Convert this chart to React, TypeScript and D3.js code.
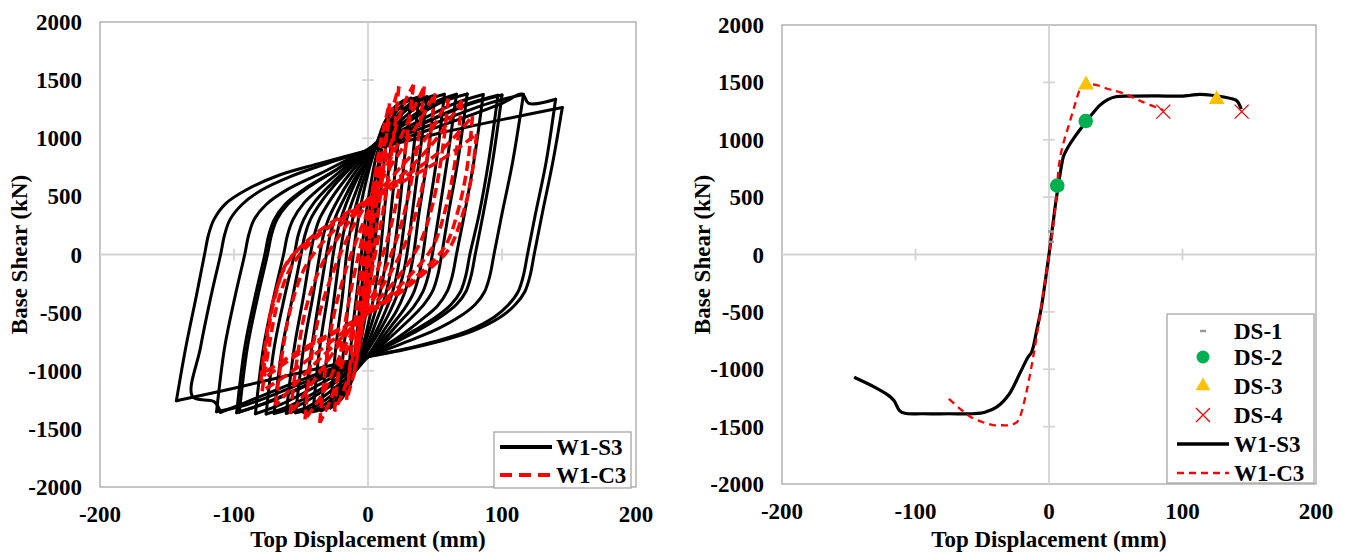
import React from 'react';
import * as d3 from 'd3';

type P = [number, number];

const xTicks = [-200, -100, 0, 100, 200];
const yTicks = [-2000, -1500, -1000, -500, 0, 500, 1000, 1500, 2000];
const axisMarkX = [-100, 100];
const axisMarkY = [-1500, -1000, -500, 500, 1000, 1500];

// Left panel: cyclic test loops of W1-S3
const s3Loops: P[][] = [
  [[145,1265],[138,800],[130,350],[124,0],[121,-180],[117,-320],[110,-430],[98,-545],[78,-660],[52,-752],[26,-822],[0,-880],[-50,-1015],[-100,-1150],[-143,-1258],
   [-136,-800],[-128,-350],[-122,0],[-119,170],[-115,300],[-106,440],[-91,555],[-66,684],[-36,784],[0,895],[50,1035],[100,1160],[145,1265]],
  [[140,1335],[133,800],[125,350],[119,0],[116,-180],[112,-320],[105,-430],[94,-540],[75,-655],[50,-748],[25,-820],[0,-880],[-50,-1080],[-95,-1290],[-110,-1358],[-115,-1265],[-131,-1223],
   [-125,-800],[-117,-350],[-110,0],[-107,170],[-103,300],[-94,430],[-80,550],[-58,670],[-30,785],[0,895],[50,1090],[100,1300],[115,1381],[120,1300],[140,1335]],
  [[116,1376],[108,800],[100,350],[94,0],[91,-180],[87,-320],[80,-430],[69,-530],[52,-640],[30,-745],[0,-880],[-50,-1110],[-90,-1290],[-113,-1352],
   [-107,-800],[-99,-350],[-92,0],[-89,170],[-85,300],[-76,430],[-60,560],[-35,700],[0,900],[50,1130],[90,1300],[116,1376]],
  [[100,1372],[93,800],[86,350],[80,0],[77,-180],[73,-320],[66,-430],[55,-530],[38,-650],[18,-770],[0,-875],[-40,-1090],[-75,-1270],[-98,-1361],
   [-92,-800],[-84,-350],[-77,0],[-74,170],[-70,300],[-62,430],[-48,560],[-25,720],[0,900],[40,1120],[75,1290],[100,1372]],
  [[97,1370],[90,800],[83,350],[76,0],[73,-180],[69,-320],[62,-430],[51,-535],[35,-650],[16,-775],[0,-880],[-40,-1095],[-74,-1270],[-96,-1355],
   [-90,-800],[-82,-350],[-75,0],[-72,170],[-68,300],[-60,430],[-46,565],[-24,725],[0,905],[40,1125],[73,1290],[97,1370]],
  [[86,1376],[79,800],[72,350],[66,0],[63,-180],[59,-320],[52,-440],[40,-560],[24,-700],[0,-875],[-35,-1110],[-65,-1290],[-84,-1370],
   [-78,-800],[-70,-350],[-63,0],[-60,170],[-56,300],[-48,440],[-35,580],[-18,740],[0,900],[35,1130],[65,1300],[86,1376]],
  [[74,1381],[67,800],[60,350],[55,0],[52,-180],[48,-320],[41,-440],[30,-570],[14,-740],[0,-880],[-30,-1120],[-58,-1300],[-76,-1372],
   [-70,-800],[-62,-350],[-55,0],[-52,170],[-48,300],[-40,450],[-28,600],[-12,770],[0,900],[30,1140],[55,1310],[74,1381]],
  [[66,1378],[59,800],[53,350],[48,0],[45,-180],[41,-320],[34,-450],[23,-590],[10,-760],[0,-880],[-28,-1130],[-52,-1300],[-70,-1368],
   [-64,-800],[-56,-350],[-50,0],[-47,170],[-43,300],[-35,450],[-24,610],[-10,780],[0,900],[28,1150],[50,1310],[66,1378]],
  [[57,1378],[51,800],[45,350],[41,0],[38,-180],[34,-330],[27,-470],[17,-620],[6,-790],[0,-880],[-25,-1150],[-45,-1310],[-61,-1366],
   [-55,-800],[-48,-350],[-43,0],[-40,170],[-36,310],[-28,470],[-18,630],[-6,800],[2,900],[25,1160],[43,1320],[57,1378]],
  [[50,1370],[44,800],[38,350],[34,0],[31,-180],[27,-340],[21,-490],[12,-650],[4,-800],[-2,-900],[-22,-1160],[-40,-1310],[-54,-1362],
   [-48,-800],[-41,-350],[-36,0],[-33,180],[-29,320],[-22,480],[-13,650],[-3,810],[4,910],[22,1170],[38,1320],[50,1370]],
  [[44,1357],[38,800],[33,350],[29,0],[26,-180],[22,-340],[16,-500],[8,-670],[0,-820],[-5,-920],[-20,-1170],[-35,-1310],[-48,-1358],
   [-42,-800],[-36,-350],[-31,0],[-28,180],[-24,330],[-17,500],[-9,670],[0,820],[5,920],[20,1170],[33,1310],[44,1357]],
  [[38,1355],[33,800],[28,350],[24,0],[21,-200],[17,-370],[11,-540],[4,-710],[-2,-850],[-8,-960],[-20,-1200],[-30,-1310],[-41,-1352],
   [-36,-800],[-30,-350],[-26,0],[-23,190],[-19,350],[-13,530],[-6,700],[1,840],[7,950],[18,1180],[28,1310],[38,1355]],
  [[32,1345],[27,800],[23,350],[19,0],[16,-200],[12,-390],[6,-580],[0,-760],[-6,-900],[-15,-1130],[-25,-1290],[-35,-1345],
   [-30,-800],[-25,-350],[-21,0],[-18,200],[-14,380],[-8,570],[-2,750],[4,890],[13,1130],[22,1290],[32,1345]],
  [[26,1320],[21,800],[17,350],[14,0],[11,-220],[7,-430],[2,-620],[-4,-820],[-11,-1020],[-19,-1230],[-28,-1320],
   [-24,-800],[-19,-350],[-16,0],[-13,220],[-9,420],[-4,620],[2,810],[9,1020],[17,1230],[26,1320]],
  [[20,1250],[16,800],[12,350],[9,0],[6,-250],[2,-500],[-3,-750],[-9,-980],[-15,-1160],[-22,-1250],
   [-18,-800],[-14,-350],[-11,0],[-8,250],[-4,500],[1,740],[7,970],[13,1150],[20,1250]],
  [[15,1100],[11,700],[7,300],[4,0],[1,-300],[-3,-600],[-8,-880],[-15,-1100],
   [-12,-700],[-8,-300],[-5,0],[-2,300],[2,600],[7,880],[15,1100]],
  [[10,900],[7,550],[4,200],[1,-150],[-3,-500],[-10,-900],[-7,-550],[-4,-200],[-1,150],[3,500],[10,900]],
  [[5,550],[2,200],[-1,-150],[-5,-550],[-2,-200],[1,150],[5,550]],
];

// Left panel: cyclic test loops of W1-C3
const c3Loops: P[][] = [
  [[5,600],[2,250],[-1,-100],[-5,-600],[-2,-250],[1,100],[5,600]],
  [[10,1000],[7,600],[3,150],[-1,-300],[-5,-650],[-10,-1000],[-7,-600],[-3,-150],[1,300],[5,650],[10,1000]],
  [[16,1300],[12,800],[7,300],[2,-200],[-4,-600],[-10,-1000],[-16,-1250],[-12,-800],[-7,-300],[-2,200],[4,600],[10,1000],[16,1300]],
  [[23,1445],[19,1000],[13,500],[7,100],[0,-300],[-8,-700],[-16,-1100],[-25,-1350],[-21,-900],[-15,-450],[-8,-50],[-1,300],[8,700],[16,1150],[23,1445]],
  [[34,1460],[29,1000],[23,550],[15,150],[5,-200],[-7,-550],[-18,-900],[-28,-1250],[-36,-1448],[-32,-1000],[-26,-550],[-17,-150],[-6,200],[6,550],[17,950],[27,1300],[34,1460]],
  [[42,1445],[37,950],[30,500],[21,120],[8,-250],[-6,-550],[-20,-850],[-34,-1200],[-47,-1418],[-43,-950],[-36,-500],[-25,-120],[-12,220],[3,520],[18,850],[32,1200],[42,1445]],
  [[50,1385],[45,900],[38,450],[28,100],[12,-250],[-5,-520],[-22,-780],[-40,-1080],[-58,-1373],[-53,-900],[-46,-450],[-35,-100],[-18,220],[0,480],[18,780],[36,1100],[50,1385]],
  [[60,1340],[55,850],[48,420],[38,80],[20,-230],[0,-480],[-20,-720],[-45,-1000],[-69,-1297],[-64,-850],[-57,-430],[-46,-90],[-26,200],[0,450],[22,720],[45,1030],[60,1340]],
  [[70,1324],[65,800],[58,400],[48,60],[28,-220],[5,-460],[-20,-680],[-50,-950],[-79,-1176],[-74,-800],[-67,-400],[-56,-80],[-35,180],[-5,420],[25,680],[50,980],[70,1324]],
  [[78,1190],[74,750],[67,370],[57,60],[35,-200],[10,-420],[-20,-640],[-55,-880],[-80,-1085],[-76,-720],[-70,-370],[-60,-70],[-40,170],[-10,400],[25,650],[55,900],[78,1190]],
  [[81,1036],[77,650],[70,320],[60,40],[40,-180],[15,-400],[-15,-600],[-50,-820],[-78,-1020],[-75,-700],[-69,-350],[-60,-60],[-40,150],[-10,380],[25,620],[58,840],[81,1036]],
];

// Right panel: envelope curves
const s3Backbone: P[] = [[-146,-1070],[-130,-1160],[-120,-1230],[-116,-1275],[-112,-1360],[-108,-1384],[-95,-1388],[-75,-1388],[-57,-1388],[-48,-1375],[-39,-1328],[-30,-1220],[-22,-1040],[-16,-900],[-13,-850],[-9,-650],[-6,-480],[-3,-250],[0,0],[3,270],[5,450],[7,600],[9,750],[11,860],[14,930],[19,1020],[26,1130],[32,1220],[38,1300],[44,1350],[50,1375],[60,1380],[80,1382],[100,1381],[106,1388],[113,1395],[122,1388],[132,1370],[140,1345],[142,1320],[144,1265]];
const c3Backbone: P[] = [[-75,-1259],[-67,-1340],[-59,-1413],[-50,-1460],[-42,-1486],[-35,-1488],[-29,-1486],[-24,-1460],[-21.7,-1413],[-18.5,-1280],[-15.5,-1122],[-10.5,-803],[-4.3,-338],[0,0],[4,330],[8,823],[11,980],[14.5,1114],[19,1290],[23,1434],[25.7,1477],[30,1485],[35.7,1477],[45,1440],[55.7,1405],[70,1330],[85.6,1259]];
const ds1: P[] = [[1.5, 200], [1.5, 110]];
const ds2: P[] = [[6.2, 600], [27.5, 1163]];
const ds3: P[] = [[27.7, 1477], [125.6, 1352]];
const ds4: P[] = [[85.6, 1245], [144.3, 1245]];

const FONT = "'Liberation Serif', 'Times New Roman', serif";
const FS = 23;
const GRID = '#d4d4d4';
const BORDER = '#a6a6a6';

// split each loop into its two branches at the negative peak so corners stay sharp
function branches(lp: P[]): P[][] {
  let k = 0;
  lp.forEach((p, i) => { if (p[1] < lp[k][1]) k = i; });
  return [lp.slice(0, k + 1), lp.slice(k)];
}

function Frame({ xs, ys, titleX }: { xs: d3.ScaleLinear<number, number>; ys: d3.ScaleLinear<number, number>; titleX: number }) {
  const [l, r] = xs.range();
  const [b, t] = ys.range();
  return (
    <g>
      <rect x={l} y={t} width={r - l} height={b - t} fill="#fff" stroke={BORDER} strokeWidth={1.3} />
      <line x1={xs(0)} x2={xs(0)} y1={t} y2={b} stroke={GRID} strokeWidth={1.8} />
      <line x1={l} x2={r} y1={ys(0)} y2={ys(0)} stroke={GRID} strokeWidth={1.8} />
      {axisMarkX.map((v) => (
        <line key={'mx' + v} x1={xs(v)} x2={xs(v)} y1={ys(0) - 6} y2={ys(0) + 6} stroke={GRID} strokeWidth={1.8} />
      ))}
      {axisMarkY.map((v) => (
        <line key={'my' + v} x1={xs(0) - 6} x2={xs(0) + 6} y1={ys(v)} y2={ys(v)} stroke={GRID} strokeWidth={1.8} />
      ))}
      {yTicks.map((v) => (
        <text key={'yt' + v} x={l - 18} y={ys(v) + 8} textAnchor="end" fontSize={FS} fontWeight="bold" fontFamily={FONT}>{v}</text>
      ))}
      {xTicks.map((v) => (
        <text key={'xt' + v} x={xs(v)} y={b + 35} textAnchor="middle" fontSize={FS} fontWeight="bold" fontFamily={FONT}>{v}</text>
      ))}
      <text x={xs(0)} y={547} textAnchor="middle" fontSize={FS} fontWeight="bold" fontFamily={FONT}>Top Displacement (mm)</text>
      <text transform={`translate(${titleX},${ys(0)}) rotate(-90)`} textAnchor="middle" fontSize={FS} fontWeight="bold" fontFamily={FONT}>Base Shear (kN)</text>
    </g>
  );
}

export default function App() {
  const xL = d3.scaleLinear().domain([-200, 200]).range([100, 636]);
  const yL = d3.scaleLinear().domain([-2000, 2000]).range([487, 22]);
  const xR = d3.scaleLinear().domain([-200, 200]).range([782, 1316]);
  const yR = d3.scaleLinear().domain([-2000, 2000]).range([484, 25]);

  const lineL = d3.line<P>().x((d) => xL(d[0])).y((d) => yL(d[1])).curve(d3.curveCatmullRom.alpha(0.5));
  const lineR = d3.line<P>().x((d) => xR(d[0])).y((d) => yR(d[1])).curve(d3.curveCatmullRom.alpha(0.5));

  const tri = d3.symbol().type(d3.symbolTriangle).size(110);
  const triLeg = d3.symbol().type(d3.symbolTriangle).size(95);

  const legR = [331, 357, 386, 415, 444, 473];

  return (
    <div style={{ position: 'fixed', left: 0, top: 0 }}>
      <svg width={1347} height={552} style={{ display: 'block', background: '#fff' }}>
        {/* Left panel */}
        <Frame xs={xL} ys={yL} titleX={27} />
        {s3Loops.map((lp, i) => branches(lp).map((br, j) => (
          <path key={'s' + i + '_' + j} d={lineL(br) || ''} fill="none" stroke="#000" strokeWidth={3} strokeLinejoin="round" strokeLinecap="round" />
        )))}
        {c3Loops.map((lp, i) => branches(lp).map((br, j) => (
          <path key={'c' + i + '_' + j} d={lineL(br) || ''} fill="none" stroke="#ff0000" strokeWidth={3.5} strokeDasharray="10,5" />
        )))}
        <rect x={494} y={432} width={137} height={56} fill="#fff" stroke={BORDER} strokeWidth={1.3} />
        <line x1={500} x2={552} y1={447} y2={447} stroke="#000" strokeWidth={4} />
        <text x={556} y={455} fontSize={FS} fontWeight="bold" fontFamily={FONT}>W1-S3</text>
        <line x1={500} x2={552} y1={475} y2={475} stroke="#ff0000" strokeWidth={4} strokeDasharray="12,7" />
        <text x={556} y={483} fontSize={FS} fontWeight="bold" fontFamily={FONT}>W1-C3</text>

        {/* Right panel */}
        <Frame xs={xR} ys={yR} titleX={710} />
        <path d={lineR(s3Backbone) || ''} fill="none" stroke="#000" strokeWidth={3.2} strokeLinejoin="round" />
        <path d={lineR(c3Backbone) || ''} fill="none" stroke="#ff0000" strokeWidth={2.3} strokeDasharray="7,5" />
        {ds1.map((d, i) => (
          <line key={'d1' + i} x1={xR(d[0]) - 3} x2={xR(d[0]) + 3} y1={yR(d[1])} y2={yR(d[1])} stroke="#9a9a9a" strokeWidth={2.5} />
        ))}
        {ds2.map((d, i) => (
          <circle key={'d2' + i} cx={xR(d[0])} cy={yR(d[1])} r={7.3} fill="#00b050" />
        ))}
        {ds3.map((d, i) => (
          <path key={'d3' + i} d={tri() || ''} transform={`translate(${xR(d[0])},${yR(d[1])})`} fill="#ffc000" />
        ))}
        {ds4.map((d, i) => (
          <path key={'d4' + i} d="M-7,-7L7,7M-7,7L7,-7" transform={`translate(${xR(d[0])},${yR(d[1])})`} stroke="#ff0000" strokeWidth={1.3} fill="none" />
        ))}
        <rect x={1167} y={314} width={147} height={169} fill="#fff" stroke={BORDER} strokeWidth={1.3} />
        <line x1={1200} x2={1206} y1={legR[0]} y2={legR[0]} stroke="#9a9a9a" strokeWidth={2.5} />
        <circle cx={1203} cy={legR[1]} r={6.5} fill="#00b050" />
        <path d={triLeg() || ''} transform={`translate(1203,${legR[2]})`} fill="#ffc000" />
        <path d="M-7,-7L7,7M-7,7L7,-7" transform={`translate(1203,${legR[3]})`} stroke="#ff0000" strokeWidth={1.3} fill="none" />
        <line x1={1177} x2={1229} y1={legR[4]} y2={legR[4]} stroke="#000" strokeWidth={3.5} />
        <line x1={1177} x2={1229} y1={legR[5]} y2={legR[5]} stroke="#ff0000" strokeWidth={2.3} strokeDasharray="7,5" />
        {['DS-1', 'DS-2', 'DS-3', 'DS-4', 'W1-S3', 'W1-C3'].map((s, i) => (
          <text key={s} x={1234} y={legR[i] + 8} fontSize={FS} fontWeight="bold" fontFamily={FONT}>{s}</text>
        ))}
      </svg>
    </div>
  );
}
